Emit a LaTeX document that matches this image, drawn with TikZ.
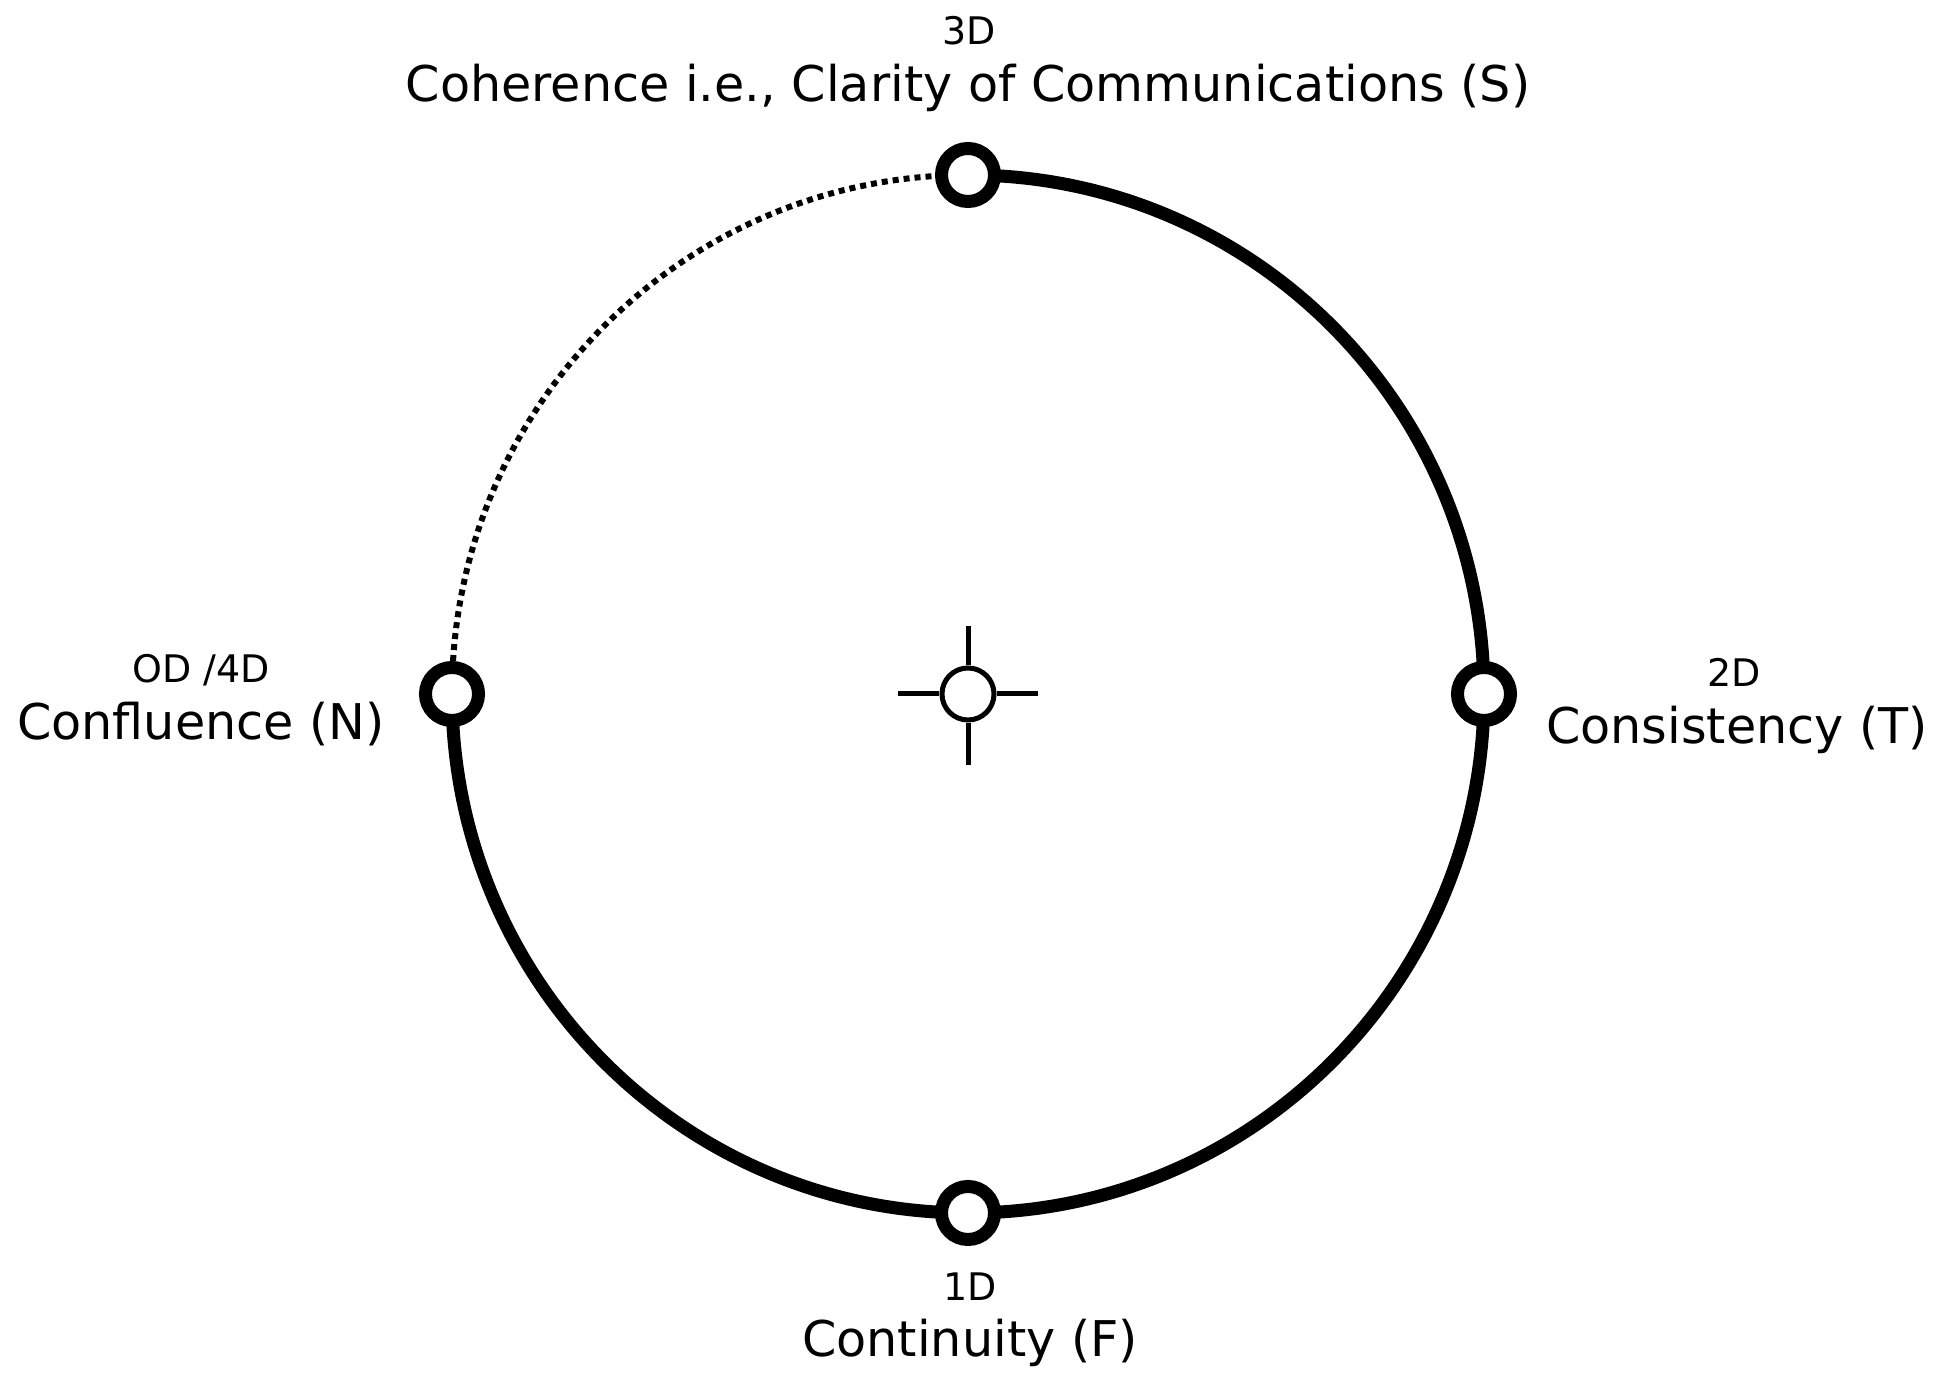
\documentclass[tikz,border=0pt]{standalone}
\usepackage{fontspec}
\setmainfont{DejaVu Sans}
\usetikzlibrary{backgrounds}

\begin{document}
\begin{tikzpicture}[x=0.01cm, y=-0.01cm,
    stopdot/.style={circle, draw, fill=white, line width=0.13cm, minimum size=0.53cm, inner sep=0pt},
    hubdot/.style={circle, draw, fill=white, line width=0.05cm, minimum size=0.52cm, inner sep=0pt},
    dimtext/.style={anchor=base, inner sep=0pt, font=\fontsize{10.8pt}{13pt}\selectfont},
    nametext/.style={anchor=base, inner sep=0pt, font=\fontsize{14pt}{17pt}\selectfont},
    ringline/.style={line width=0.13cm},
    dotline/.style={line width=0.06cm, dash pattern=on 0.06cm off 0.05cm}]
    \useasboundingbox (0,0) rectangle (1941,1383);

    \node[stopdot] (S) at (968, 175) {};
    \node[stopdot] (T) at (1484, 694) {};
    \node[stopdot] (F) at (968, 1213) {};
    \node[stopdot] (N) at (452, 694) {};
    \node[hubdot] (c) at (968, 694) {};

    \coordinate (c-up) at (968, 626);
    \coordinate (c-down) at (968, 765);
    \coordinate (c-left) at (898, 694);
    \coordinate (c-right) at (1038, 694);

    \begin{scope}[on background layer]
        \draw[ringline] (S.center) arc[start angle=-90, end angle=180, x radius=516, y radius=519];
        \draw[dotline] (N.center) arc[start angle=180, end angle=270, x radius=516, y radius=519];
    \end{scope}

    \draw[line width=0.05cm] (c) -- (c-up);
    \draw[line width=0.05cm] (c) -- (c-down);
    \draw[line width=0.05cm] (c) -- (c-left);
    \draw[line width=0.05cm] (c) -- (c-right);

    \node[dimtext] (S-dim) at (969, 45) {3D};
    \node[nametext] (S-name) at (968, 102) {Coherence i.e., Clarity of Communications (S)};
    \node[dimtext] (T-dim) at (1734, 687) {2D};
    \node[nametext] (T-name) at (1737, 744) {Consistency (T)};
    \node[dimtext] (F-dim) at (970, 1301) {1D};
    \node[nametext] (F-name) at (970, 1357) {Continuity (F)};
    \node[dimtext] (N-dim) at (201, 683) {OD /4D};
    \node[nametext] (N-name) at (201, 740) {Confluence (N)};
\end{tikzpicture}
\end{document}
